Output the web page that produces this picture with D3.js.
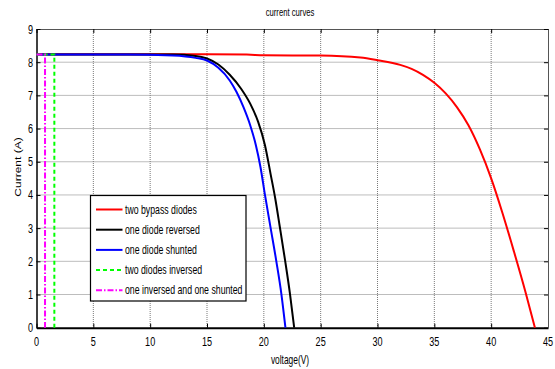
<!DOCTYPE html>
<html>
<head>
<meta charset="utf-8">
<script src="https://cdn.jsdelivr.net/npm/d3@7"></script>
<style>
  html, body { margin: 0; padding: 0; background: #fff; }
  svg { display: block; }
  text { font-family: Arial, "Liberation Sans", sans-serif; fill: #000; }
</style>
</head>
<body>
<svg id="chart" width="555" height="369"></svg>
<script>
// I-V curves of a PV string under different bypass configurations
const twoBypassV = [0, 5, 10, 15, 18.5, 20, 25, 28.5, 30, 32, 33, 34, 35, 36, 37, 38, 39, 40, 41, 42, 43, 43.85];
const twoBypassI = [8.24, 8.24, 8.24, 8.24, 8.23, 8.21, 8.2, 8.14, 8.06, 7.92, 7.8, 7.62, 7.38, 7.06, 6.64, 6.1, 5.38, 4.5, 3.45, 2.3, 1.1, 0];

const reversedV = [0, 12, 14, 15, 16, 17, 18, 18.8, 19.5, 20.1, 20.6, 21.0, 21.4, 21.86, 22.3, 22.67];
const reversedI = [8.23, 8.23, 8.19, 8.11, 7.93, 7.62, 7.2, 6.75, 6.2, 5.5, 4.62, 3.9, 3.05, 2.05, 1.02, 0];

const shuntedV = [0, 8, 12, 14, 15, 16, 17, 17.6, 18.2, 18.8, 19.3, 19.7, 20.1, 20.6, 21.1, 21.55, 21.9];
const shuntedI = [8.23, 8.23, 8.2, 8.13, 8.05, 7.83, 7.45, 7.1, 6.65, 6.1, 5.5, 4.85, 4.0, 3.0, 2.0, 1.0, 0];

const twoInversedV = [0, 1.57, 1.57];
const twoInversedI = [8.23, 8.23, 0];

const invShuntV = [0, 0.75, 0.75];
const invShuntI = [8.23, 8.23, 0];

const seriesNames = ["two bypass diodes", "one diode reversed", "one diode shunted", "two diodes inversed", "one inversed and one shunted"];
const seriesColors = ["#ff0000", "#000000", "#0000ff", "#00ff00", "#ff00ff"];
const seriesDash = [null, null, null, "4,3", "6,2,1.5,2"];

const xTicks = [0, 5, 10, 15, 20, 25, 30, 35, 40, 45];
const yTicks = [0, 1, 2, 3, 4, 5, 6, 7, 8, 9];

const titleText = "current curves";
const xLabel = "voltage(V)";
const yLabel = "Current (A)";

const series = [
  [twoBypassV, twoBypassI],
  [reversedV, reversedI],
  [shuntedV, shuntedI],
  [twoInversedV, twoInversedI],
  [invShuntV, invShuntI]
].map(([v, i], k) => ({
  name: seriesNames[k], color: seriesColors[k], dash: seriesDash[k],
  pts: v.map((x, j) => [x, i[j]])
}));

const svg = d3.select("#chart");
const m = { left: 36.5, right: 548, top: 29, bottom: 327.7 };
const x = d3.scaleLinear().domain([0, 45]).range([m.left, m.right]);
const y = d3.scaleLinear().domain([0, 9]).range([m.bottom, m.top]);
const SQ = 0.7; // horizontal squeeze of the lettering

function label(g, tx, ty, str, size, anchor, rot) {
  return g.append("text")
    .attr("transform", rot ? `translate(${tx},${ty}) rotate(-90) scale(1,${SQ})` : `translate(${tx},${ty}) scale(${SQ},1)`)
    .attr("text-anchor", anchor)
    .style("font-size", size + "px")
    .text(str);
}

// dotted grid
const grid = svg.append("g");
grid.selectAll(".gx").data(xTicks.slice(1, -1)).join("line")
  .attr("x1", d => x(d)).attr("x2", d => x(d))
  .attr("y1", m.top).attr("y2", m.bottom)
  .attr("stroke", "#7a7a7a").attr("stroke-width", 1).attr("stroke-dasharray", "1,1");
grid.selectAll(".gy").data(yTicks.slice(1, -1)).join("line")
  .attr("x1", m.left).attr("x2", m.right)
  .attr("y1", d => y(d)).attr("y2", d => y(d))
  .attr("stroke", "#7a7a7a").attr("stroke-width", 1).attr("stroke-dasharray", "1,1");

// axes with inward ticks on all four sides
const ax = svg.append("g");
ax.append("g").attr("transform", `translate(0,${m.bottom})`)
  .call(d3.axisBottom(x).tickValues(xTicks).tickSizeInner(-4).tickSizeOuter(0).tickFormat(""))
  .call(g => g.select(".domain").attr("stroke", "#000").attr("stroke-width", 2));
ax.append("g").attr("transform", `translate(0,${m.top})`)
  .call(d3.axisTop(x).tickValues(xTicks).tickSizeInner(-4).tickSizeOuter(0).tickFormat(""))
  .call(g => g.select(".domain").attr("stroke", "#555"));
ax.append("g").attr("transform", `translate(${m.left},0)`)
  .call(d3.axisLeft(y).tickValues(yTicks).tickSizeInner(-4).tickSizeOuter(0).tickFormat(""))
  .call(g => g.select(".domain").attr("stroke", "#000").attr("stroke-width", 1.5));
ax.append("g").attr("transform", `translate(${m.right},0)`)
  .call(d3.axisRight(y).tickValues(yTicks).tickSizeInner(-4).tickSizeOuter(0).tickFormat(""))
  .call(g => g.select(".domain").attr("stroke", "#555"));
ax.selectAll(".tick line").attr("stroke", "#000");

// tick labels
const tl = svg.append("g");
xTicks.forEach(t => label(tl, x(t), 346, String(t), 13, "middle"));
yTicks.forEach(t => label(tl, 33, y(t) + 4.5, String(t), 13, "end"));

// titles
label(svg, 290, 16, titleText, 11, "middle");
label(svg, 290, 364, xLabel, 12, "middle");
label(svg, 21, 167, yLabel, 12, "middle", true);

// curves
const line = d3.line().x(d => x(d[0])).y(d => y(d[1]));
const lines = svg.append("g");
series.forEach((s, k) => {
  lines.append("path")
    .datum(s.pts)
    .attr("d", k < 3 ? line.curve(d3.curveMonotoneX)(s.pts) : line.curve(d3.curveLinear)(s.pts))
    .attr("fill", "none")
    .attr("stroke", s.color)
    .attr("stroke-width", 2)
    .attr("stroke-dasharray", s.dash);
});

// legend
const lg = svg.append("g");
lg.append("rect").attr("x", 90.5).attr("y", 195.5).attr("width", 155.5).attr("height", 105.5)
  .attr("fill", "#fff").attr("stroke", "#000").attr("stroke-width", 1.2);
series.forEach((s, k) => {
  const yy = 209.5 + k * 20.2;
  lg.append("line").attr("x1", 96).attr("x2", 122.5).attr("y1", yy).attr("y2", yy)
    .attr("stroke", s.color).attr("stroke-width", 2).attr("stroke-dasharray", s.dash);
  label(lg, 125, yy + 4, s.name, 12.5, "start");
});
</script>
</body>
</html>
